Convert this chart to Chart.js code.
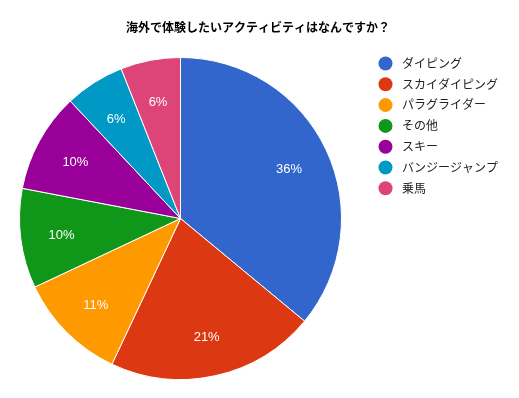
<!DOCTYPE html>
<html>
<head>
<meta charset="utf-8">
<script src="https://cdn.jsdelivr.net/npm/chart.js@4/dist/chart.umd.min.js"></script>
<style>
  html, body { margin: 0; padding: 0; background: #fff; }
  #wrap { width: 519px; height: 398px; }
</style>
</head>
<body>
<div id="wrap"><canvas id="activityChart" width="519" height="398"></canvas></div>
<script>
    var chartTitle = '海外で体験したいアクティビティはなんですか？';
    var activityLabels = ['ダイピング', 'スカイダイピング', 'パラグライダー', 'その他', 'スキー', 'バンジージャンプ', '乗馬'];
    var activityValues = [36, 21, 11, 10, 10, 6, 6];
    var sliceColors = ['#3366CC', '#DC3912', '#FF9900', '#109618', '#990099', '#0099C6', '#DD4477'];

    var fontFamily = 'Arial, "Liberation Sans", "Noto Sans CJK JP", sans-serif';

    // percent labels inside each slice
    var sliceLabels = {
        id: 'sliceLabels',
        afterDatasetsDraw: function (chart) {
            var ctx = chart.ctx;
            var meta = chart.getDatasetMeta(0);
            var total = activityValues.reduce(function (a, b) { return a + b; }, 0);
            ctx.save();
            ctx.fillStyle = '#ffffff';
            ctx.font = '13px ' + fontFamily;
            ctx.textAlign = 'center';
            ctx.textBaseline = 'middle';
            meta.data.forEach(function (arc, i) {
                var mid = (arc.startAngle + arc.endAngle) / 2;
                var r = arc.outerRadius * 0.745;
                var x = arc.x + Math.cos(mid) * r;
                var y = arc.y + Math.sin(mid) * r + 2;
                ctx.fillText(Math.round(activityValues[i] / total * 100) + '%', x, y);
            });
            ctx.restore();
        }
    };

    // title and right side legend
    var titleAndLegend = {
        id: 'titleAndLegend',
        afterDraw: function (chart) {
            var ctx = chart.ctx;
            ctx.save();
            ctx.fillStyle = '#000000';
            ctx.font = 'bold 12px ' + fontFamily;
            ctx.textAlign = 'center';
            ctx.textBaseline = 'middle';
            ctx.fillText(chartTitle, 258, 29);

            ctx.font = '12px ' + fontFamily;
            ctx.textAlign = 'left';
            activityLabels.forEach(function (label, i) {
                var y = 63.5 + i * 20.8;
                ctx.beginPath();
                ctx.arc(385.5, y, 7, 0, Math.PI * 2);
                ctx.fillStyle = sliceColors[i];
                ctx.fill();
                ctx.fillStyle = '#222222';
                ctx.fillText(label, 402, y + 1);
            });
            ctx.restore();
        }
    };

    var ctx = document.getElementById('activityChart').getContext('2d');
    var activityChart = new Chart(ctx, {
        type: 'pie',
        data: {
            labels: activityLabels,
            datasets: [{
                data: activityValues,
                backgroundColor: sliceColors,
                borderColor: '#ffffff',
                borderWidth: 1
            }]
        },
        options: {
            responsive: false,
            animation: false,
            layout: { padding: { left: 19, top: 57, right: 177, bottom: 18 } },
            plugins: {
                legend: { display: false },
                title: { display: false },
                tooltip: { enabled: false }
            }
        },
        plugins: [sliceLabels, titleAndLegend]
    });
</script>
</body>
</html>
